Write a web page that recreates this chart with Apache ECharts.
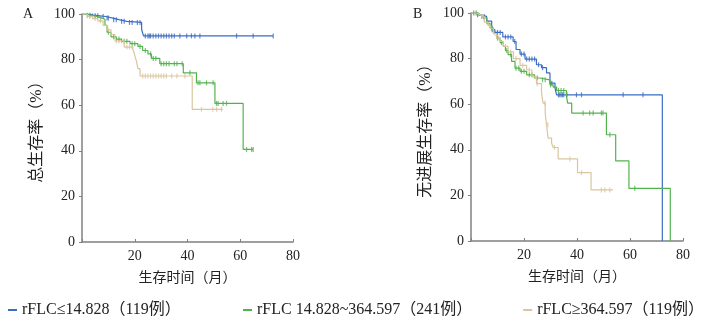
<!DOCTYPE html>
<html>
<head>
<meta charset="utf-8">
<script src="https://cdn.jsdelivr.net/npm/echarts@6/dist/echarts.min.js"></script>
<style>
  html, body { margin: 0; padding: 0; background: #fff; }
  #chart { width: 712px; height: 320px; }
</style>
</head>
<body>
<div id="chart"></div>
<script>
// 图例名称
const groupNames = ['rFLC≤14.828（119例）', 'rFLC 14.828~364.597（241例）', 'rFLC≥364.597（119例）'];
const groupColors = ['#3b6cc4', '#52b34e', '#dac69e'];
const xTicks = [0, 20, 40, 60, 80];
const yTicks = [0, 20, 40, 60, 80, 100];

// A: 总生存 (时间, 生存率)
const aBlueT = [0, 2.5, 4.3, 6.8, 9, 11.7, 14, 17, 22.6, 23.3, 72.5];
const aBlueS = [100, 99.5, 99.2, 98.9, 98.2, 97.5, 96.8, 96.3, 93.3, 90.4, 90.4];
const aBlueCensor = [3, 5, 6, 8, 9.5, 10, 12, 13, 15, 16, 18, 19, 21, 22, 24, 25, 25.5, 26, 27, 28, 29, 30, 31, 32, 33, 34, 35, 37.1, 39.7, 41.5, 42.8, 44.7, 58.6, 64.9, 72.5];

const aGreenT = [0, 1.5, 3, 5, 6.8, 8.7, 9.5, 11, 13, 15, 18.2, 21.2, 23, 25, 26.3, 29.5, 38.4, 43.4, 50.4, 61.1, 64.9];
const aGreenS = [100, 99.5, 99.2, 98.5, 97.7, 95, 92, 90, 89, 88, 87, 85.8, 84, 82.5, 80.5, 78.2, 74.2, 69.8, 60.8, 40.6, 40.6];
const aGreenCensor = [2, 4, 7, 10, 12, 14, 16, 17, 19, 20, 22, 24, 26, 27, 28, 30, 31, 32, 33, 35, 36, 38, 40.9, 44, 44.7, 47.2, 49.7, 51, 51.6, 53.5, 54.8, 62.4, 64.3, 64.9];

const aTanT = [0, 2, 4, 6, 8, 9.5, 11, 12.5, 16, 19.3, 20, 20.7, 21.2, 22, 41.8, 53.4];
const aTanS = [100, 99, 98, 97, 95, 93, 91, 88.2, 85.5, 84.5, 82, 79, 76, 72.8, 58.2, 58.2];
const aTanCensor = [3, 5, 7, 10, 13, 14, 15, 17, 18, 19, 23, 24, 25, 26, 27, 28, 29, 30, 31, 32, 34, 36, 39, 45.3, 49.6, 51, 52.9];

// B: 无进展生存
const bBlueT = [0, 2, 3.4, 5.9, 7.8, 9, 12, 15.9, 17, 18.5, 20.4, 24.7, 26.6, 28.5, 29.8, 31.7, 32.3, 72.2];
const bBlueS = [100, 99.2, 98.5, 96.4, 92.7, 91.5, 89.5, 87.5, 84, 82, 79.8, 77.3, 76, 73.7, 69.2, 67.1, 64.1, 0];
const bBlueCensor = [2.5, 4, 5, 8, 10, 11, 13, 14, 15, 16.5, 19, 20, 21, 22, 23, 24, 25.5, 27, 30.5, 33, 33.5, 34, 34.5, 35, 36.2, 39.8, 41.7, 57.4, 64.9];

const bGreenT = [0, 3, 4.6, 6, 7.2, 8.5, 9.7, 11, 12.2, 13, 14, 15.3, 16.6, 18.5, 21, 24, 26, 29.8, 31, 32.3, 36, 36.5, 38, 51.1, 54.6, 59.6, 75.2];
const bGreenS = [100, 99, 97.8, 95.5, 93.4, 91, 89, 87, 85.4, 83.5, 81.7, 78.8, 75.8, 74.4, 72.9, 71.5, 70.7, 68.5, 67.5, 66, 63.5, 60.5, 56.1, 46.6, 35.1, 23.1, 0];
const bGreenCensor = [1, 2, 5, 6.5, 8, 10, 11.5, 13.5, 15, 17, 18, 19, 20, 22, 23, 25, 27, 28, 30, 33, 34, 35, 42.3, 44.8, 46.1, 49.2, 49.8, 52.4, 61.8];

const bTanT = [0, 2, 3.4, 5, 6.5, 7.5, 8.5, 9.7, 11, 12.2, 14, 16, 18.5, 21, 23, 24.7, 26.6, 27.2, 28, 28.5, 29.1, 30.4, 31, 32.9, 40.2, 45.3, 53.6];
const bTanS = [100, 99.3, 98.5, 96, 94.5, 93, 91, 89, 87.5, 85.4, 83, 80, 77, 75, 72, 69, 65, 60.5, 56, 51, 45.1, 43, 41, 36, 30, 22.4, 22.4];
const bTanCensor = [1.5, 4, 6, 9, 10.5, 13, 15, 17, 19.5, 22, 25, 27.9, 29, 31.5, 37.3, 41.7, 49.2, 50.5, 52.4];

const serif = '"Liberation Serif", "Noto Sans CJK SC", serif';

function zip(T, S) {
    return T.map((t, i) => [t, S[i]]);
}
// 删失点位于曲线上：取该时刻的生存率
function survAt(T, S, t) {
    let s = S[0];
    for (let i = 0; i < T.length; i++) {
        if (T[i] <= t) s = S[i]; else break;
    }
    return s;
}
function censorData(T, S, C) {
    return C.map(t => [t, survAt(T, S, t)]);
}

function xAxisOpt(gridIndex) {
    return {
        gridIndex: gridIndex, type: 'value', min: 0, max: 80, interval: 20,
        name: '生存时间（月）', nameLocation: 'middle', nameGap: 29,
        nameTextStyle: { fontFamily: serif, fontSize: 14, color: '#222' },
        axisLine: { lineStyle: { color: '#808080', width: 1.5 } },
        axisTick: { show: true, inside: true, length: 3, lineStyle: { color: '#808080' } },
        axisLabel: {
            fontFamily: serif, fontSize: 14, color: '#222', margin: 7,
            formatter: v => (v === 0 ? '' : String(v))
        },
        splitLine: { show: false }
    };
}
function yAxisOpt(gridIndex, name) {
    return {
        gridIndex: gridIndex, type: 'value', min: 0, max: 100, interval: 20,
        name: name, nameLocation: 'middle', nameGap: 37, nameRotate: 90,
        nameTextStyle: { fontFamily: serif, fontSize: 16, color: '#222' },
        axisLine: { show: true, lineStyle: { color: '#808080', width: 1.5 } },
        axisTick: { show: true, length: 3, lineStyle: { color: '#808080' } },
        axisLabel: { fontFamily: serif, fontSize: 14, color: '#222', margin: 7 },
        splitLine: { show: false }
    };
}

function kmSeries(name, idx, T, S, color) {
    return {
        name: name, type: 'line', step: 'end', xAxisIndex: idx, yAxisIndex: idx,
        data: zip(T, S), showSymbol: false, silent: true,
        lineStyle: { color: color, width: 1.2 }, itemStyle: { color: color }
    };
}
function censorSeries(idx, T, S, C, color) {
    return {
        type: 'scatter', xAxisIndex: idx, yAxisIndex: idx, silent: true,
        data: censorData(T, S, C), symbol: 'rect', symbolSize: [1.2, 5],
        itemStyle: { color: color }
    };
}

const chart = echarts.init(document.getElementById('chart'), null, { renderer: 'canvas' });

const legendBase = {
    top: 297, icon: 'rect', itemWidth: 9, itemHeight: 2, itemGap: 6,
    textStyle: { fontFamily: serif, fontSize: 16, color: '#222' }
};

chart.setOption({
    animation: false,
    title: [
        { text: 'A', left: 18, top: 2, textStyle: { fontFamily: serif, fontSize: 14, fontWeight: 'normal', color: '#222' } },
        { text: 'B', left: 408, top: 2, textStyle: { fontFamily: serif, fontSize: 14, fontWeight: 'normal', color: '#222' } }
    ],
    legend: [
        Object.assign({ left: 3, data: [groupNames[0]] }, legendBase),
        Object.assign({ left: 238, data: [groupNames[1]] }, legendBase),
        Object.assign({ right: 3, data: [groupNames[2]] }, legendBase)
    ],
    grid: [
        { left: 82, top: 14, width: 211, height: 228 },
        { left: 471, top: 13, width: 212, height: 228 }
    ],
    xAxis: [xAxisOpt(0), xAxisOpt(1)],
    yAxis: [yAxisOpt(0, '总生存率（%）'), yAxisOpt(1, '无进展生存率（%）')],
    series: [
        kmSeries(groupNames[0], 0, aBlueT, aBlueS, groupColors[0]),
        kmSeries(groupNames[1], 0, aGreenT, aGreenS, groupColors[1]),
        kmSeries(groupNames[2], 0, aTanT, aTanS, groupColors[2]),
        censorSeries(0, aBlueT, aBlueS, aBlueCensor, groupColors[0]),
        censorSeries(0, aGreenT, aGreenS, aGreenCensor, groupColors[1]),
        censorSeries(0, aTanT, aTanS, aTanCensor, groupColors[2]),
        kmSeries(groupNames[0], 1, bBlueT, bBlueS, groupColors[0]),
        kmSeries(groupNames[1], 1, bGreenT, bGreenS, groupColors[1]),
        kmSeries(groupNames[2], 1, bTanT, bTanS, groupColors[2]),
        censorSeries(1, bBlueT, bBlueS, bBlueCensor, groupColors[0]),
        censorSeries(1, bGreenT, bGreenS, bGreenCensor, groupColors[1]),
        censorSeries(1, bTanT, bTanS, bTanCensor, groupColors[2])
    ]
});
</script>
</body>
</html>
